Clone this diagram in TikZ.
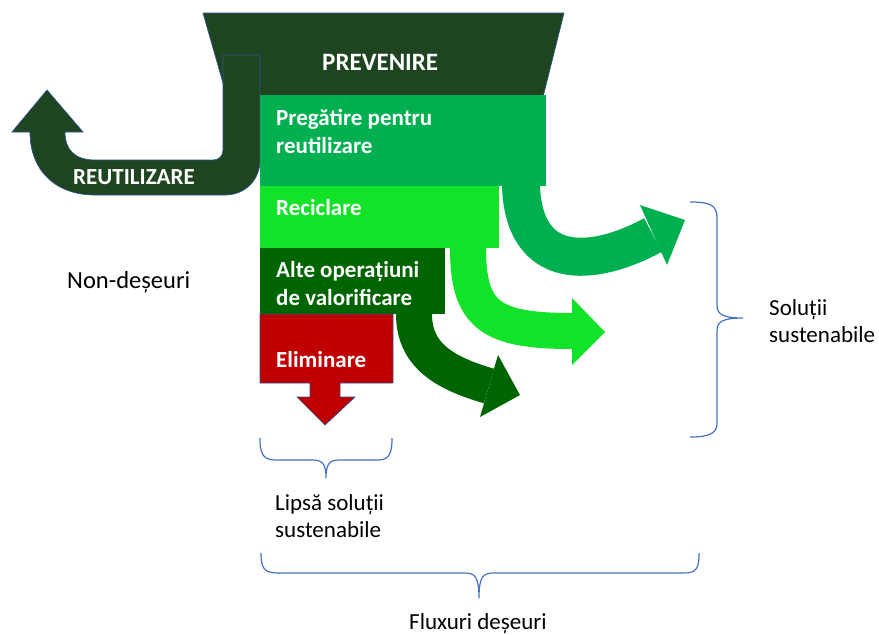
\documentclass[tikz,border=0pt]{standalone}
\usepackage{fontspec}
\setmainfont{Carlito}
\definecolor{prevg}{RGB}{30,69,32}
\definecolor{pregg}{RGB}{0,176,80}
\definecolor{recg}{RGB}{18,226,40}
\definecolor{altg}{RGB}{0,100,0}
\definecolor{elimr}{RGB}{192,0,0}
\definecolor{bracec}{RGB}{68,114,196}
\definecolor{edgec}{RGB}{47,82,143}
\begin{document}
\begin{tikzpicture}[x=1pt,y=-1pt,
  lbl/.style={font=\fontsize{23}{27}\selectfont, inner sep=0pt, anchor=base west, align=left, text=black},
  wlbl/.style={font=\bfseries\fontsize{23}{27.5}\selectfont, inner sep=0pt, anchor=base west, align=left, text=white},
  thinedge/.style={draw=edgec, line width=0.7pt},
  bracestyle/.style={draw=bracec, line width=1.2pt},
  band/.style={line cap=butt}]
\useasboundingbox (0,0) rectangle (879,635);
% PREVENIRE trapezoid
\path[fill=prevg, thinedge] (203,13) -- (564,13) -- (543,97) -- (227,97) -- cycle;
% REUTILIZARE U-arrow
\path[fill=prevg, thinedge] (260,55) -- (260,160) .. controls (260,180) and (245,195) .. (225,195) -- (95,195)
  .. controls (55,195) and (30,170) .. (30,132) -- (12,132) -- (47,90) -- (83,132) -- (65,132)
  .. controls (65,150) and (75,160) .. (95,160) -- (213,160) .. controls (219,160) and (223,156) .. (223,150)
  -- (223,55) -- cycle;
% flow bands
\draw[band, pregg, line width=38pt] (521,175) -- (521,186) .. controls (524,272) and (592,268) .. (653,235);
\fill[pregg] (640,205) -- (685,220) -- (667,265) -- cycle;
\draw[band, recg, line width=36pt] (468,240) -- (468,248) .. controls (468,315) and (490,331) .. (572,331);
\fill[recg] (572,298) -- (605,332) -- (572,365) -- cycle;
\draw[band, altg, line width=36pt] (414,305) -- (414,314) .. controls (414,355) and (444,373) .. (489,386);
\fill[altg] (498,355) -- (520,395) -- (480,417) -- cycle;
% boxes
\fill[pregg] (260,95) rectangle (546,186);
\fill[recg] (260,186) rectangle (499,248);
\fill[altg] (260,248) rectangle (445,314);
\path[fill=elimr, thinedge] (260,314) -- (393,314) -- (393,383) -- (340,383) -- (340,397) -- (355,397)
  -- (325,425) -- (297,397) -- (310,397) -- (310,383) -- (260,383) -- cycle;
% labels (multi-line nodes: base = last line)
\node[wlbl, font=\bfseries\fontsize{25}{30}\selectfont] (prev) at (322,70) {PREVENIRE};
\node[wlbl] (reut) at (73,184) {REUTILIZARE};
\node[wlbl] (preg) at (276,153) {Pregătire pentru\\reutilizare};
\node[wlbl] (recl) at (276,215) {Reciclare};
\node[wlbl] (alte) at (276,305) {Alte operațiuni\\de valorificare};
\node[wlbl] (elim) at (276,367) {Eliminare};
\node[lbl, font=\fontsize{24.5}{29}\selectfont] (nond) at (67,288) {Non-deșeuri};
\node[lbl] (solu) at (769,342) {Soluții\\sustenabile};
\node[lbl] (lips) at (275,537) {Lipsă soluții\\sustenabile};
\node[lbl] (flux) at (409,629) {Fluxuri deșeuri};
% braces
\draw[bracestyle] (690,202) .. controls (710,202) and (717,205) .. (717,218) -- (717,305)
  .. controls (717,314) and (722,318) .. (743,318) .. controls (722,318) and (717,322) .. (717,331)
  -- (717,423) .. controls (717,433) and (710,437) .. (690,437);
\draw[bracestyle] (260,438) .. controls (260,452) and (262,460) .. (275,460) -- (312,460)
  .. controls (322,460) and (326,463) .. (326,478) .. controls (326,463) and (330,460) .. (340,460)
  -- (378,460) .. controls (390,460) and (392,452) .. (392,438);
\draw[bracestyle] (261,553) .. controls (261,568) and (264,573) .. (278,573) -- (465,573)
  .. controls (475,573) and (479,577) .. (479,598) .. controls (479,577) and (483,573) .. (493,573)
  -- (684,573) .. controls (697,573) and (699,568) .. (699,553);
\end{tikzpicture}
\end{document}
